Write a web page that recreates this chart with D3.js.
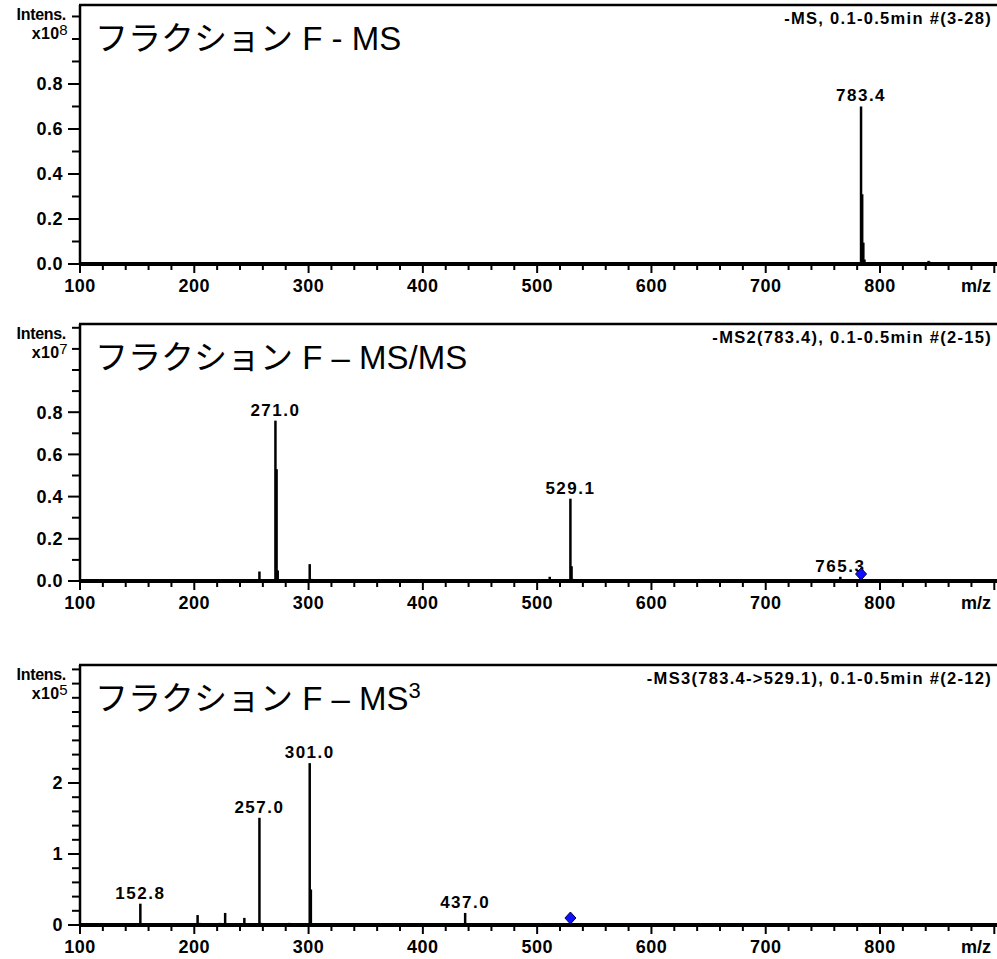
<!DOCTYPE html>
<html><head><meta charset="utf-8">
<script src="https://cdn.jsdelivr.net/npm/d3@7"></script>
<style>
body{margin:0;background:#fff}
text{font-family:"Liberation Sans",Arial,"Noto Sans CJK JP",sans-serif;fill:#000}
</style>
</head><body><svg id="c" width="997" height="959"></svg>
<script>
// ---- data ----
const mzTicks = [100,200,300,400,500,600,700,800,900];
const mzTickLabels = ["100","200","300","400","500","600","700","800",""];
const titles = ["フラクション F - MS", "フラクション F – MS/MS", "フラクション F – MS"];
const titleSup = ["", "", "3"];
const scanInfo = ["-MS, 0.1-0.5min #(3-28)", "-MS2(783.4), 0.1-0.5min #(2-15)", "-MS3(783.4->529.1), 0.1-0.5min #(2-12)"];
const exponents = ["8","7","5"];

const ms1Mz  = [783.4, 784.4, 785.4, 786.4, 842.5, 843.5, 845.0, 852.0];
const ms1Int = [0.70, 0.31, 0.095, 0.02, 0.014, 0.01, 0.007, 0.006];
const ms1Labels = [783.4];

const ms2Mz  = [257.0, 271.0, 272.0, 273.0, 301.0, 303.0, 437.5, 480.5, 497.5, 511.0, 529.1, 530.1, 531.1, 765.3];
const ms2Int = [0.045, 0.76, 0.53, 0.05, 0.08, 0.01, 0.008, 0.008, 0.008, 0.02, 0.39, 0.07, 0.01, 0.02];
const ms2Labels = [271.0, 529.1, 765.3];
const ms2Precursor = [783.4];

const ms3Mz  = [152.8, 202.9, 205.0, 222.5, 227.0, 243.8, 257.0, 258.5, 283.0, 301.0, 302.0, 437.0];
const ms3Int = [0.30, 0.14, 0.03, 0.03, 0.17, 0.10, 1.51, 0.03, 0.03, 2.28, 0.50, 0.17];
const ms3Labels = [152.8, 257.0, 301.0, 437.0];
const ms3Precursor = [529.1];

const yTicks1 = [0,0.1,0.2,0.3,0.4,0.5,0.6,0.7,0.8,0.9,1.0,1.1];
const yTicks2 = [0,0.1,0.2,0.3,0.4,0.5,0.6,0.7,0.8,0.9,1.0,1.1,1.2];
const yTicks3 = [0,0.2,0.4,0.6,0.8,1.0,1.2,1.4,1.6,1.8,2.0,2.2,2.4,2.6,2.8,3.0,3.2,3.4,3.6];
const yLabels1 = [0,0.2,0.4,0.6,0.8];
const yLabels2 = [0,0.2,0.4,0.6,0.8];
const yLabels3 = [0,1,2];

// ---- layout ----
const svg = d3.select("#c");
const left = 80, right = 997;
const x = d3.scaleLinear().domain([100, 900]).range([left, 994.3]);

const panels = [
  {top:5,   base:264, yMax:1.151, mz:ms1Mz, it:ms1Int, labels:ms1Labels, prec:[], yt:yTicks1, yl:yLabels1, fmt:d3.format(".1f")},
  {top:324, base:581, yMax:1.218, mz:ms2Mz, it:ms2Int, labels:ms2Labels, prec:ms2Precursor, yt:yTicks2, yl:yLabels2, fmt:d3.format(".1f")},
  {top:665, base:925, yMax:3.662, mz:ms3Mz, it:ms3Int, labels:ms3Labels, prec:ms3Precursor, yt:yTicks3, yl:yLabels3, fmt:d3.format("d")}
];

panels.forEach((p, i) => {
  const g = svg.append("g");
  const y = d3.scaleLinear().domain([0, p.yMax]).range([p.base, p.top]);
  const peaks = p.mz.map((m, k) => ({mz:m, v:p.it[k]}));

  // peaks
  g.selectAll("line.pk").data(peaks).join("line")
    .attr("x1", d => x(d.mz)).attr("x2", d => x(d.mz))
    .attr("y1", p.base).attr("y2", d => y(d.v))
    .attr("stroke", "#000").attr("stroke-width", 2.5);

  // peak labels
  g.selectAll("text.pl").data(p.labels).join("text")
    .attr("x", d => x(d)).attr("y", d => y(peaks.find(q => q.mz === d).v) - 5)
    .attr("text-anchor", "middle").attr("font-size", 17).attr("font-weight", "bold")
    .attr("letter-spacing", 1.5)
    .text(d => d.toFixed(1));

  // precursor diamonds
  g.selectAll("path.pr").data(p.prec).join("path")
    .attr("transform", d => `translate(${x(d)},${p.base - 7})`)
    .attr("d", "M0,-6L5.5,0L0,6L-5.5,0Z")
    .attr("fill", "#1010ff").attr("stroke", "#000040").attr("stroke-width", 1);

  // x axis
  const xa = g.append("g").attr("transform", `translate(0,${p.base})`);
  xa.append("line").attr("x1", left).attr("x2", right).attr("stroke", "#000").attr("stroke-width", 4);
  const xMinor = d3.range(100, 901, 20).filter(v => v % 100 !== 0);
  xa.selectAll("line.mn").data(xMinor).join("line")
    .attr("x1", d => x(d)).attr("x2", d => x(d)).attr("y1", 0).attr("y2", 6)
    .attr("stroke", "#000").attr("stroke-width", 2);
  xa.selectAll("line.mj").data(mzTicks).join("line")
    .attr("x1", d => x(d)).attr("x2", d => x(d)).attr("y1", 0).attr("y2", 9)
    .attr("stroke", "#000").attr("stroke-width", 2);
  xa.selectAll("text.xl").data(mzTicks.filter((d, k) => mzTickLabels[k] !== "")).join("text")
    .attr("x", d => x(d)).attr("y", 28).attr("text-anchor", "middle")
    .attr("font-size", 18).attr("font-weight", "bold").attr("letter-spacing", 0.5)
    .text(d => mzTickLabels[mzTicks.indexOf(d)]);
  xa.append("text").attr("x", 991).attr("y", 28).attr("text-anchor", "end")
    .attr("font-size", 18).attr("font-weight", "bold").text("m/z");

  // y axis
  const ya = g.append("g");
  ya.append("line").attr("x1", left).attr("x2", left).attr("y1", p.top).attr("y2", p.base)
    .attr("stroke", "#000").attr("stroke-width", 2.5);
  ya.selectAll("line.yt").data(p.yt).join("line")
    .attr("x1", d => p.yl.some(l => Math.abs(l - d) < 1e-9) ? 68 : 72).attr("x2", left)
    .attr("y1", d => y(d)).attr("y2", d => y(d))
    .attr("stroke", "#000").attr("stroke-width", 2);
  ya.selectAll("text.yl").data(p.yl).join("text")
    .attr("x", 63).attr("y", d => y(d)).attr("dy", "0.36em").attr("text-anchor", "end")
    .attr("font-size", 18).attr("font-weight", "bold").attr("letter-spacing", 0.5)
    .text(d => p.fmt(d));

  // top border
  g.append("line").attr("x1", left - 1).attr("x2", right).attr("y1", p.top).attr("y2", p.top)
    .attr("stroke", "#000").attr("stroke-width", 2.5);

  // Intens. / exponent
  g.append("text").attr("x", 66).attr("y", p.top + 15).attr("text-anchor", "end")
    .attr("font-size", 16).attr("font-weight", "bold").attr("letter-spacing", -0.3).text("Intens.");
  const ex = g.append("text").attr("x", 68).attr("y", p.top + 34).attr("text-anchor", "end")
    .attr("font-size", 16).attr("font-weight", "bold").attr("letter-spacing", 0.3);
  ex.append("tspan").text("x10");
  ex.append("tspan").attr("dy", -4).attr("font-size", 15).attr("font-weight", "normal").text(exponents[i]);

  // title
  const t = g.append("text").attr("x", 95).attr("y", p.top + 45).attr("font-size", 33);
  t.append("tspan").text(titles[i]);
  if (titleSup[i]) t.append("tspan").attr("dy", -12).attr("font-size", 22).text(titleSup[i]);

  // scan info
  g.append("text").attr("x", 992).attr("y", p.top + 19).attr("text-anchor", "end")
    .attr("font-size", 16.5).attr("font-weight", "bold").attr("letter-spacing", 1.3).text(scanInfo[i]);
});
</script>
</body></html>
